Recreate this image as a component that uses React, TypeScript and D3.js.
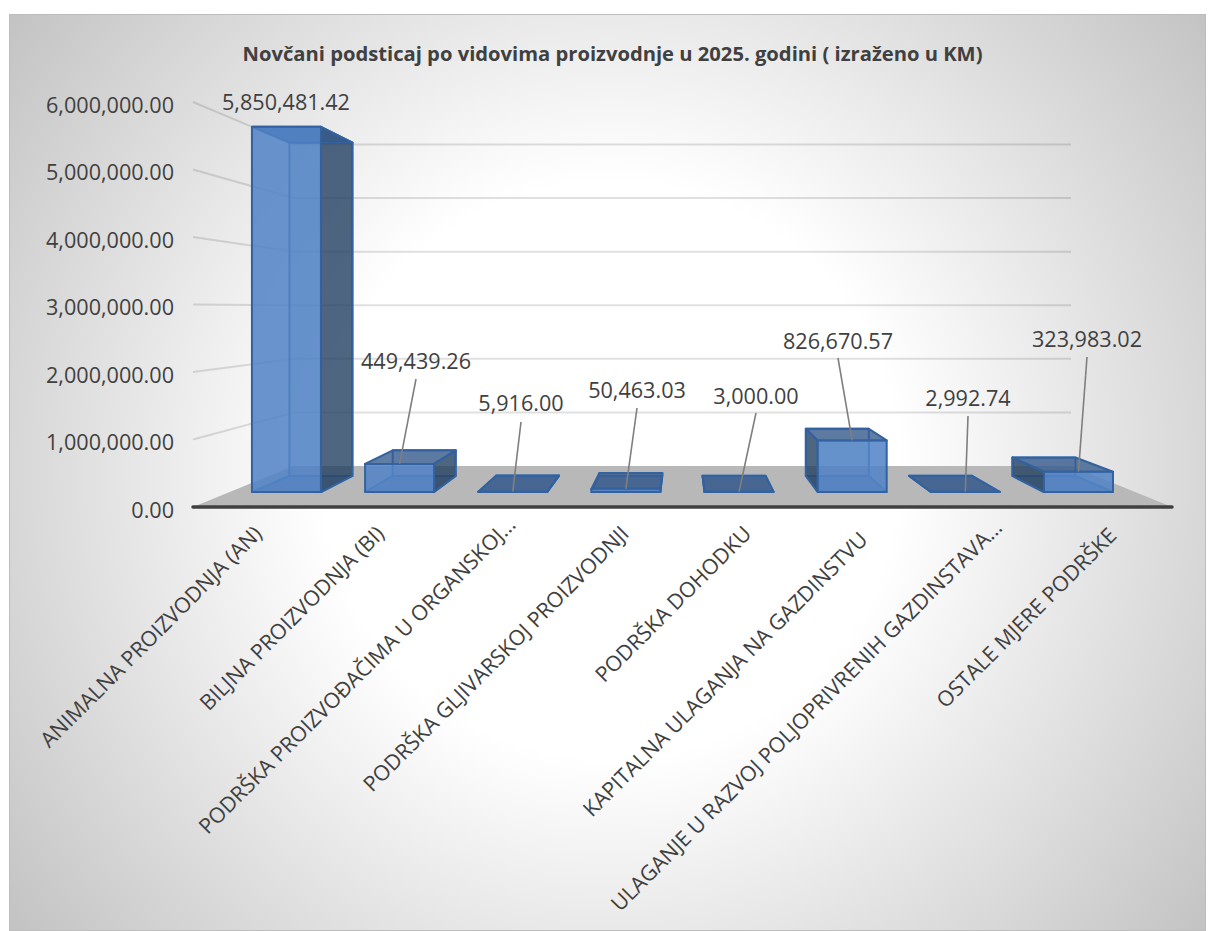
import React from "react";
import * as d3 from "d3";

const chartTitle = "Novčani podsticaj po vidovima proizvodnje u 2025. godini ( izraženo u KM)";
const categories = [
  "ANIMALNA PROIZVODNJA (AN)",
  "BILJNA PROIZVODNJA (BI)",
  "PODRŠKA PROIZVOĐAČIMA U ORGANSKOJ…",
  "PODRŠKA GLJIVARSKOJ PROIZVODNJI",
  "PODRŠKA DOHODKU",
  "KAPITALNA ULAGANJA NA GAZDINSTVU",
  "ULAGANJE U RAZVOJ POLJOPRIVRENIH GAZDINSTAVA…",
  "OSTALE MJERE PODRŠKE",
];
const values = [5850481.42, 449439.26, 5916.0, 50463.03, 3000.0, 826670.57, 2992.74, 323983.02];
const valueTicks = [0, 1000000, 2000000, 3000000, 4000000, 5000000, 6000000];
// layout of the hand-placed data labels (centre x, centre y) and category label nudges
const labelX = [286, 416, 521, 637, 756, 838, 968, 1087];
const labelY = [102, 361, 403, 390, 396, 341, 398, 339];
const leaderTopY = [null, 379, 422, 408, 413, 358, 416, 357];
const categoryShift = [0, 0, 9, 0, 0, -6, 6, -2];

const W = 1212, H = 931;
const vp = { x: 682, y: 308 };
const FRONT = 1, BAR_FRONT = 0.9246, BAR_BACK = 0.844, BACK = 0.794;
const x = d3.scaleBand<string>().domain(categories).range([193, 1172]).paddingInner(0.39).paddingOuter(0.195);
const y = d3.scaleLinear().domain([0, 6000000]).range([507, 102]);
const project = (X: number, Y: number, s: number): [number, number] => [vp.x + (X - vp.x) * s, vp.y + (Y - vp.y) * s];
const poly = (pts: [number, number][]) => d3.line()(pts)! + "Z";
const fmt = d3.format(",.2f");
const font = "'Open Sans', 'Noto Sans', sans-serif";

export default function App() {
  const [x0, x1] = x.range();
  return (
    <svg width={W} height={H} style={{ position: "absolute", left: 0, top: 0, background: "#fff" }} fontFamily={font}>
      <defs>
        <radialGradient id="bg" gradientUnits="userSpaceOnUse" cx={610} cy={470} r={760}>
          <stop offset="0" stopColor="#ffffff" />
          <stop offset="0.38" stopColor="#ffffff" />
          <stop offset="1" stopColor="#c2c2c2" />
        </radialGradient>
      </defs>
      <rect x={9.5} y={14.5} width={1196} height={916} fill="url(#bg)" stroke="#bdbdbd" strokeWidth={1} />
      <text x={612.5} y={61} textAnchor="middle" fontSize={20.2} fontWeight={700} fill="#404040">{chartTitle}</text>

      {valueTicks.slice(1).map((t) => (
        <path key={t} stroke="#000" strokeOpacity={0.12} strokeWidth={2} fill="none"
          d={d3.line()([project(x0, y(t), FRONT), project(x0, y(t), BACK), project(x1, y(t), BACK)])!} />
      ))}
      <path d={poly([project(x0, y(0), FRONT), project(x1, y(0), FRONT), project(x1, y(0), BACK), project(x0, y(0), BACK)])} fill="#b8b8b8" />
      <line x1={x0} x2={x1} y1={507} y2={507} stroke="#404040" strokeWidth={3.5} strokeLinecap="round" />

      {valueTicks.map((t) => (
        <text key={t} x={174} y={y(t) + 10.5} textAnchor="end" fontSize={21.6} fill="#404040">{fmt(t)}</text>
      ))}

      {categories.map((c, i) => {
        const l = x(c)!, r = l + x.bandwidth();
        const base = y(0), top = y(values[i]);
        const p = (X: number, Y: number, s: number) => project(X, Y, s);
        const fbl = p(l, base, BAR_FRONT), fbr = p(r, base, BAR_FRONT), ftl = p(l, top, BAR_FRONT), ftr = p(r, top, BAR_FRONT);
        const bbl = p(l, base, BAR_BACK), bbr = p(r, base, BAR_BACK), btl = p(l, top, BAR_BACK), btr = p(r, top, BAR_BACK);
        const sideRight = (l + r) / 2 < vp.x;
        const stroke = "#32629f";
        const sw = 2;
        return (
          <g key={c} strokeLinejoin="round">
            <path d={poly([bbl, bbr, btr, btl])} fill="#4f81bd" fillOpacity={0.12} stroke="#4a7dbd" strokeWidth={sw} />
            <path d={poly([fbl, fbr, bbr, bbl])} fill="#3d6a9e" fillOpacity={0.35} stroke="#4a7dbd" strokeWidth={sw} />
            <path d={poly(sideRight ? [fbr, bbr, btr, ftr] : [fbl, bbl, btl, ftl])} fill="#233f60" fillOpacity={0.78} stroke={stroke} strokeWidth={sw} />
            <path d={poly([ftl, ftr, btr, btl])} fill="#33598a" fillOpacity={0.78} stroke={stroke} strokeWidth={sw} />
            <path d={poly([fbl, fbr, ftr, ftl])} fill="#4f81c4" fillOpacity={0.85} stroke={stroke} strokeWidth={sw} />
          </g>
        );
      })}

      {categories.map((c, i) => {
        const cx = x(c)! + x.bandwidth() / 2;
        const foot = project(cx, y(values[i]), BAR_FRONT);
        return (
          <g key={c}>
            {leaderTopY[i] != null && (
              <line x1={foot[0]} y1={foot[1]} x2={labelX[i]} y2={leaderTopY[i]!} stroke="#7f7f7f" strokeWidth={1.6} />
            )}
            <text x={labelX[i]} y={labelY[i] + 7.5} textAnchor="middle" fontSize={21.6} fill="#404040">{fmt(values[i])}</text>
          </g>
        );
      })}

      {categories.map((c, i) => {
        const d = categoryShift[i];
        const ax = x(c)! + x.bandwidth() / 2 + 9 + d;
        return (
          <text key={c} transform={`translate(${ax},${535 - d}) rotate(-45)`} textAnchor="end" fontSize={21.3} fill="#404040">{c}</text>
        );
      })}
    </svg>
  );
}
